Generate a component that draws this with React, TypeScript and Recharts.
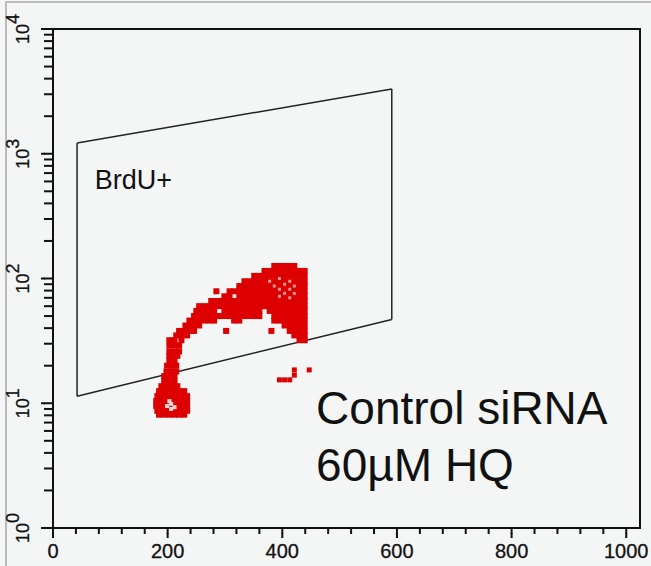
import React from "react";
import {
  ScatterChart,
  Scatter,
  XAxis,
  YAxis,
  ReferenceArea,
  ReferenceLine,
  ReferenceDot,
} from "recharts";

// channel values on the x axis, fluorescence (log) on the y axis
const xTicks = [
  0, 40, 80, 120, 160, 200, 240, 280, 320, 360, 400, 440, 480, 520, 560, 600,
  640, 680, 720, 760, 800, 840, 880, 920, 960, 1000,
];
const xLabelled = [0, 200, 400, 600, 800, 1000];
const yDecades = [1, 10, 100, 1000, 10000];
const yMinor = [2, 3, 4, 5, 6, 7, 8, 9];

// BrdU+ gate polygon
const gateX = [42, 591, 591, 42];
const gateY = [1220, 3300, 47, 11.4];

// text notes anchored at data positions (left end of the baseline)
const notes = [
  { x: 73, y: 522, text: "BrdU+", size: 27 },
  { x: 459, y: 6.82, text: "Control siRNA", size: 46 },
  { x: 459, y: 2.38, text: "60µM HQ", size: 46 },
];

// red events, one row per y level: [y, x values]
const blobRows: [number, number[]][] = [
  [126, [386, 395, 404, 413, 421]],
  [115, [369, 378, 386, 395, 404, 413, 421, 430, 439]],
  [105, [351, 360, 369, 378, 386, 395, 404, 413, 421, 430, 439]],
  [95, [334, 343, 351, 360, 369, 378, 386, 395, 404, 413, 421, 430, 439]],
  [87, [325, 334, 343, 351, 360, 369, 378, 386, 395, 404, 413, 421, 430, 439]],
  [79, [285, 308, 316, 325, 334, 343, 351, 360, 369, 378, 386, 395, 404, 413, 421, 430, 439]],
  [72, [299, 308, 325, 334, 343, 351, 360, 369, 378, 386, 395, 404, 413, 421, 430, 439]],
  [66, [276, 285, 294, 302, 308, 316, 325, 334, 343, 351, 360, 369, 378, 386, 395, 404, 413, 421, 430, 439]],
  [60, [255, 264, 273, 281, 290, 299, 308, 316, 325, 334, 343, 351, 360, 369, 378, 386, 395, 404, 413, 421, 430, 439]],
  [55, [250, 255, 264, 273, 281, 299, 308, 316, 325, 334, 343, 351, 360, 378, 386, 395, 404, 413, 421, 430, 439]],
  [50, [246, 255, 264, 273, 281, 290, 299, 308, 316, 325, 334, 343, 351, 360, 386, 395, 404, 413, 421, 430, 439]],
  [46, [238, 246, 255, 264, 273, 281, 316, 325, 386, 395, 404, 413, 421, 430, 439]],
  [42, [231, 238, 246, 255, 404, 413, 421, 430, 439]],
  [38, [220, 229, 238, 246, 302, 381, 413, 421, 430, 439]],
  [35, [215, 224, 234, 421, 430, 439]],
  [32, [203, 212, 224, 430, 439]],
];

const stemRows: [number, number[]][] = [
  [29, [203, 212, 220]],
  [26, [203, 212, 220]],
  [24, [203, 212, 217]],
  [22, [203, 212]],
  [20, [199, 208, 215]],
  [18, [198, 206, 215]],
  [16.5, [194, 203, 212]],
  [15, [194, 203, 212]],
  [13.7, [189, 199, 208, 217]],
  [12.5, [185, 194, 203, 212, 220, 229]],
  [11.4, [182, 191, 199, 208, 217, 225, 234]],
  [10.4, [180, 189, 199, 208, 217, 225, 234]],
  [9.5, [180, 189, 199, 208, 217, 225, 234]],
  [8.7, [182, 191, 199, 208, 217, 225, 234]],
  [8.1, [185, 194, 203, 212, 220, 229]],
];

const outliers = [
  { x: 395, y: 15.4 },
  { x: 404, y: 15.4 },
  { x: 413, y: 15.4 },
  { x: 421, y: 16.8 },
  { x: 421, y: 18.5 },
  { x: 447, y: 18.5 },
];

// high density spots (drawn lighter)
const denseCore = [
  { x: 378, y: 95 }, { x: 395, y: 100 }, { x: 404, y: 90 }, { x: 413, y: 95 },
  { x: 386, y: 87 }, { x: 395, y: 82 }, { x: 413, y: 82 }, { x: 421, y: 87 },
  { x: 404, y: 76 }, { x: 421, y: 76 }, { x: 395, y: 72 }, { x: 413, y: 70 },
];
const lowCore = [
  { x: 199, y: 9.5 }, { x: 206, y: 9.9 }, { x: 212, y: 9.3 }, { x: 203, y: 10.4 }, { x: 206, y: 9.0 },
];

const toPoints = (rows: [number, number[]][]) =>
  rows.flatMap(([y, xs]) => xs.map((x) => ({ x, y })));

const yTicks = yDecades.flatMap((d) =>
  d === 10000 ? [d] : [d, ...yMinor.map((m) => d * m)]
);

const FONT = "'Liberation Sans', Arial, sans-serif";
const RED = "#dd0000";
const INK = "#111";

const square = (fill: string, s: number) => (props: any) => (
  <rect x={props.cx - s / 2} y={props.cy - s / 2} width={s} height={s} fill={fill} />
);

// tick props land 2px past the tick line; labelled ticks get a longer mark
const XTick = (props: any) => {
  const { x, y, payload } = props;
  if (!xLabelled.includes(payload.value)) return <g />;
  return (
    <g>
      <rect x={x - 1} y={y - 3} width={2} height={5} fill={INK} />
      <text
        x={x}
        y={y + 22}
        textAnchor="middle"
        fontSize={20}
        fontFamily={FONT}
        fill={INK}
        stroke={INK}
        strokeWidth={0.3}
      >
        {payload.value}
      </text>
    </g>
  );
};

const YTick = (props: any) => {
  const { x, y, payload } = props;
  if (!yDecades.includes(payload.value)) return <g />;
  const exp = Math.round(Math.log10(payload.value));
  return (
    <g>
      <rect x={x - 1} y={y - 1} width={4} height={2} fill={INK} />
      <text
        transform={`translate(${x - 13},${y}) rotate(-90)`}
        textAnchor="middle"
        fontSize={18}
        fontFamily={FONT}
        fill={INK}
        stroke={INK}
        strokeWidth={0.3}
      >
        10<tspan dy={-10}>{exp}</tspan>
      </text>
    </g>
  );
};

// label drawn with its baseline starting at the dot centre
const NoteText = (props: any) => {
  const vb = props.viewBox;
  if (!vb) return null;
  const cx = vb.x + (vb.width || 0) / 2;
  const cy = vb.y + (vb.height || 0) / 2;
  return (
    <text x={cx} y={cy} fontSize={props.size} fontFamily={FONT} fill="#111">
      {props.text}
    </text>
  );
};

export default function App() {
  const gateSegments = gateX.map((gx, i) => {
    const j = (i + 1) % gateX.length;
    return [
      { x: gx, y: gateY[i] },
      { x: gateX[j], y: gateY[j] },
    ];
  });

  return (
    <div style={{ position: "absolute", left: 0, top: 0, width: 651, height: 566, background: "#f4f6f5" }}>
      <div
        style={{
          position: "absolute",
          left: 5,
          top: 1,
          width: 646,
          height: 565,
          borderTop: "2px solid #bbbbbb",
          borderLeft: "2px solid #bbbbbb",
          boxSizing: "border-box",
        }}
      />
      <ScatterChart width={651} height={566} margin={{ top: 29, right: 11, bottom: 0, left: 0 }}>
        <XAxis
          type="number"
          dataKey="x"
          domain={[0, 1024]}
          ticks={xTicks}
          interval={0}
          allowDataOverflow
          stroke={INK}
          tickLine={{ stroke: INK, strokeWidth: 2 }}
          tickSize={6}
          height={38}
          tick={(p: any) => <XTick {...p} />}
        />
        <YAxis
          type="number"
          dataKey="y"
          scale="log"
          domain={[1, 10000]}
          ticks={yTicks}
          interval={0}
          allowDataOverflow
          stroke={INK}
          tickLine={{ stroke: INK, strokeWidth: 2 }}
          tickSize={9}
          width={53}
          tick={(p: any) => <YTick {...p} />}
        />
        <ReferenceArea
          x1={0}
          x2={1024}
          y1={1}
          y2={10000}
          fill="none"
          stroke={INK}
          strokeWidth={2}
          ifOverflow="visible"
        />
        <Scatter data={toPoints(blobRows)} shape={square(RED, 6)} isAnimationActive={false} />
        <Scatter data={toPoints(stemRows)} shape={square(RED, 6)} isAnimationActive={false} />
        <Scatter data={outliers} shape={square(RED, 5)} isAnimationActive={false} />
        <Scatter data={denseCore} shape={square("#e59a9a", 3)} isAnimationActive={false} />
        <Scatter data={lowCore} shape={square("#eed6d6", 4)} isAnimationActive={false} />
        {gateSegments.map((seg, i) => (
          <ReferenceLine key={`g${i}`} segment={seg} stroke="#222" strokeWidth={1.5} ifOverflow="visible" />
        ))}
        {notes.map((n) => (
          <ReferenceDot
            key={n.text}
            x={n.x}
            y={n.y}
            r={1}
            fill="none"
            stroke="none"
            ifOverflow="visible"
            label={<NoteText text={n.text} size={n.size} />}
          />
        ))}
      </ScatterChart>
    </div>
  );
}
